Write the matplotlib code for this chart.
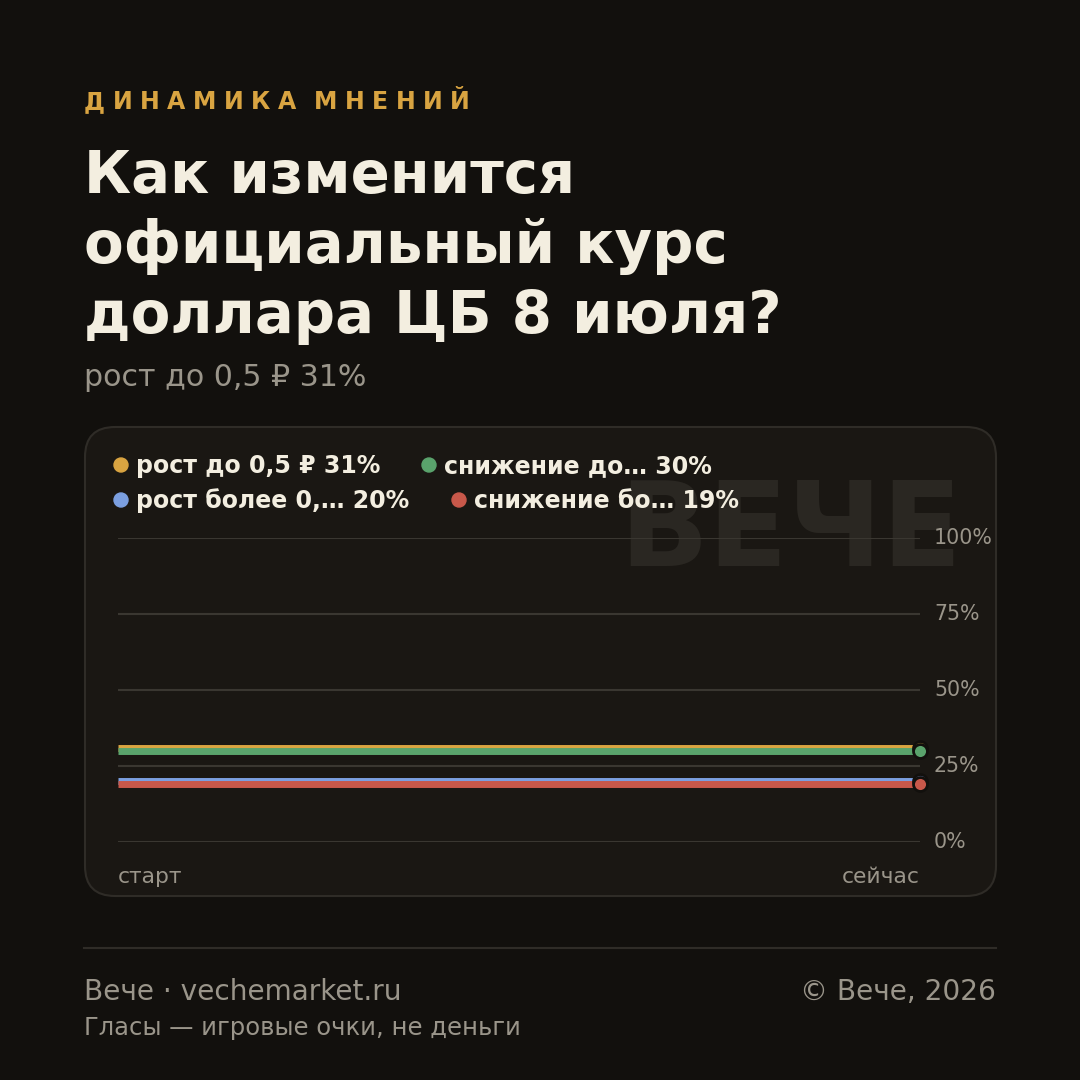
import matplotlib
matplotlib.use("Agg")
import matplotlib.pyplot as plt
from matplotlib.patches import FancyBboxPatch, Circle

# data
labels = ["рост до 0,5 ₽", "снижение до…", "рост более 0,…", "снижение бо…"]
start_vals = [31, 30, 20, 19]
now_vals = [31, 30, 20, 19]
colors = ["#d9a441", "#5aa36c", "#7b9fe0", "#c8584a"]
x_labels = ["старт", "сейчас"]
y_ticks = [0, 25, 50, 75, 100]

BG = "#12100d"
CARD = "#1a1713"
EDGE = "#2f2c27"
GRID = "#3a3731"
MUTED = "#9a958a"
LIGHT = "#f3eee0"

plt.rcParams['font.family'] = ['DejaVu Sans']

fig = plt.figure(figsize=(10.8, 10.8), dpi=100, facecolor=BG)

# background axes in pixel coords
bg = fig.add_axes([0, 0, 1, 1])
bg.set_xlim(0, 1080)
bg.set_ylim(1080, 0)
bg.axis("off")

card = FancyBboxPatch((85, 427), 911, 469, boxstyle="round,pad=0,rounding_size=30",
                      facecolor=CARD, edgecolor=EDGE, linewidth=1.5, zorder=1)
bg.add_patch(card)
bg.text(962, 566, "ВЕЧЕ", fontsize=84, fontweight="bold", color="#2a2722",
        ha="right", va="baseline", zorder=2)

# kicker with letter spacing
renderer = fig.canvas.get_renderer()
x = 84
for ch in "ДИНАМИКА МНЕНИЙ":
    t = bg.text(x, 109, ch, fontsize=17, fontweight="bold", color="#d9a441",
                ha="left", va="baseline")
    w = t.get_window_extent(renderer).width
    if ch == " ":
        w = 3
    x += w + 7.5

title_lines = ["Как изменится", "официальный курс", "доллара ЦБ 8 июля?"]
for i, line in enumerate(title_lines):
    bg.text(84, 193 + 70 * i, line, fontsize=41.6, fontweight="bold", color=LIGHT,
            ha="left", va="baseline")

bg.text(84, 386, f"{labels[0]} {now_vals[0]}%", fontsize=21.6, color=MUTED,
        ha="left", va="baseline")

# legend
leg_pos = [(121, 465), (429, 465), (121, 500), (459, 500)]
for (lx, ly), lab, v, c in zip(leg_pos, labels, now_vals, colors):
    bg.add_patch(Circle((lx, ly), 7, color=c, zorder=3))
    bg.text(lx + 15, ly + 8, f"{lab} {v}%", fontsize=17, fontweight="bold",
            color=LIGHT, ha="left", va="baseline", zorder=3)

# footer
bg.plot([84, 996], [948, 948], color=EDGE, lw=1.5)
bg.text(84, 1000, "Вече · vechemarket.ru", fontsize=20.2, color=MUTED, va="baseline")
bg.text(996, 1000, "© Вече, 2026", fontsize=20.2, color=MUTED, va="baseline", ha="right")
bg.text(84, 1035, "Гласы — игровые очки, не деньги", fontsize=17.5, color=MUTED, va="baseline")

# plot axes: x 118..920 px, y 0% at 842, 100% at 538
ax = fig.add_axes([118 / 1080, (1080 - 842) / 1080, (920 - 118) / 1080, 304 / 1080])
ax.set_facecolor("none")
ax.set_xlim(0, 1)
ax.set_ylim(0, 100)
for s in ax.spines.values():
    s.set_visible(False)
ax.set_xticks([])
ax.set_yticks([])
for yv in y_ticks:
    ax.axhline(yv, color=GRID, lw=1.5, zorder=1)
    ax.text(1.0 + 14 / 802, yv, f"{yv}%", transform=ax.transData, fontsize=14.8,
            color=MUTED, ha="left", va="center", clip_on=False)

for s0, s1, c in zip(start_vals, now_vals, colors):
    ax.plot([0, 1], [s0, s1], color=c, lw=5, solid_capstyle="butt", zorder=3, clip_on=False)
for s1, c in zip(now_vals, colors):
    ax.plot([1], [s1], "o", color=c, markersize=10, markeredgecolor="#12100d",
            markeredgewidth=2, zorder=4, clip_on=False)

bg.text(118, 883, x_labels[0], fontsize=15.7, color=MUTED, ha="left", va="baseline")
bg.text(920, 883, x_labels[1], fontsize=15.7, color=MUTED, ha="right", va="baseline")

fig.savefig("out.png", dpi=100, facecolor=BG)
